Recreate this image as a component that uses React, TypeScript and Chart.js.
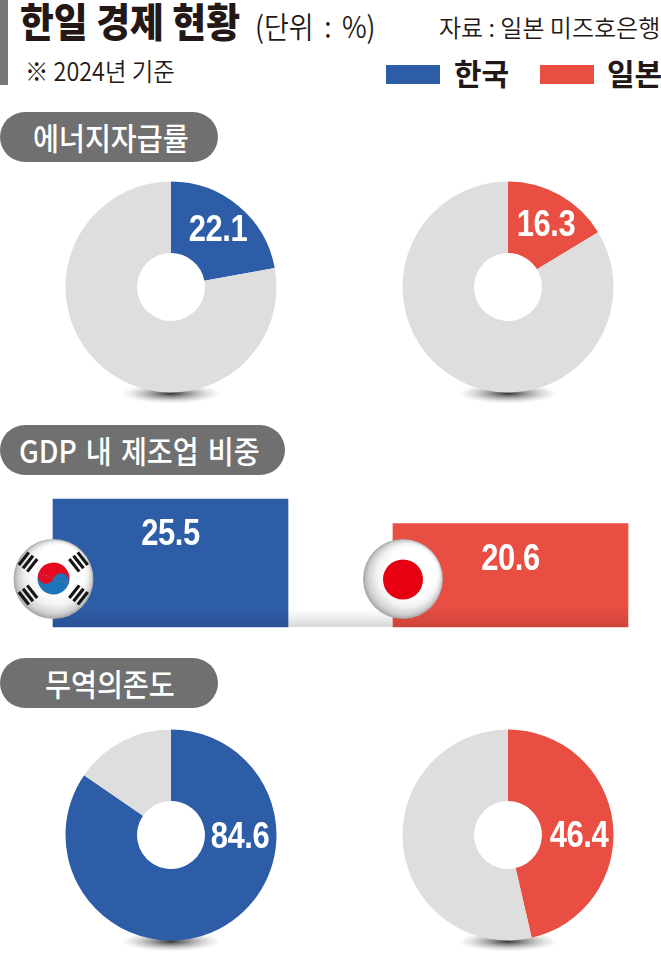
import React, { useEffect, useRef } from "react";
import { Chart, registerables } from "chart.js";

Chart.register(...registerables);

const KOREA = "한국";
const JAPAN = "일본";
const countries = [KOREA, JAPAN];
const energyShare = [22.1, 16.3];
const energyRest = [77.9, 83.7];
const gdpManufacturing = [25.5, 20.6];
const tradeShare = [84.6, 46.4];
const tradeRest = [15.4, 53.6];

const BLUE = "#2e5da8";
const RED = "#e94e42";
const GREY = "#dedede";
const KR = '"Noto Sans CJK KR"';
const NUM = '"Liberation Sans"';

const drawValue = (ctx: any, text: string, x: number, y: number) => {
  ctx.save();
  ctx.translate(x, y);
  ctx.scale(0.86, 1);
  ctx.font = `bold 36px ${NUM}`;
  ctx.letterSpacing = "-0.5px";
  ctx.textAlign = "center";
  ctx.textBaseline = "middle";
  ctx.fillStyle = "#fff";
  ctx.fillText(text, 0, 0);
  ctx.restore();
};

const pieExtras = {
  id: "pieExtras",
  beforeDatasetsDraw(chart: any) {
    const { ctx } = chart;
    const arc = chart.getDatasetMeta(0).data[0];
    ctx.save();
    ctx.translate(arc.x, arc.y + arc.outerRadius + 1);
    ctx.scale(1, 0.2);
    const g = ctx.createRadialGradient(0, 0, 0, 0, 0, 50);
    g.addColorStop(0, "rgba(40,40,40,0.95)");
    g.addColorStop(0.45, "rgba(90,90,90,0.5)");
    g.addColorStop(1, "rgba(170,170,170,0)");
    ctx.fillStyle = g;
    ctx.beginPath();
    ctx.arc(0, 0, 50, 0, Math.PI * 2);
    ctx.fill();
    ctx.restore();
  },
  afterDatasetsDraw(chart: any, _a: any, opts: any) {
    const arc = chart.getDatasetMeta(0).data[0];
    const v = chart.data.datasets[0].data[0];
    drawValue(chart.ctx, v.toFixed(1), arc.x + opts.dx, arc.y + opts.dy);
  },
};

function Doughnut({ left, top, share, rest, color, dx, dy }: any) {
  const ref = useRef<HTMLCanvasElement>(null);
  useEffect(() => {
    const chart = new Chart(ref.current as HTMLCanvasElement, {
      type: "doughnut",
      data: {
        labels: ["비중", "기타"],
        datasets: [{ data: [share, rest], backgroundColor: [color, GREY], borderWidth: 0 }],
      },
      options: {
        animation: false,
        responsive: false,
        cutout: "32.2%",
        layout: { padding: 12.5 },
        events: [],
        plugins: { legend: { display: false }, tooltip: { enabled: false }, pieExtras: { dx, dy } } as any,
      },
      plugins: [pieExtras],
    });
    return () => chart.destroy();
  }, []);
  return (
    <canvas
      ref={ref}
      width={236}
      height={236}
      style={{ position: "absolute", left, top, width: 236, height: 236 }}
    />
  );
}

const sphere = (ctx: any, x: number, y: number, r: number, fx: number, fy: number) => {
  const g = ctx.createRadialGradient(x + fx, y + fy, r * 0.62, x, y, r);
  g.addColorStop(0, "#ffffff");
  g.addColorStop(0.45, "#f1f1f1");
  g.addColorStop(0.8, "#cfcfcf");
  g.addColorStop(1, "#a4a4a4");
  ctx.fillStyle = g;
  ctx.beginPath();
  ctx.arc(x, y, r, 0, Math.PI * 2);
  ctx.fill();
};

const trigram = (ctx: any, x: number, y: number, angle: number) => {
  ctx.save();
  ctx.translate(x, y);
  ctx.rotate(angle);
  ctx.fillStyle = "#151515";
  for (let i = -1; i <= 1; i++) ctx.fillRect(-8, i * 5.4 - 1.6, 16, 3.2);
  ctx.restore();
};

const koreaFlag = (ctx: any, x: number, y: number) => {
  sphere(ctx, x, y, 40, 6, -9);
  const r = 16;
  const cy = y - 0.5;
  ctx.save();
  ctx.translate(x, cy);
  ctx.rotate(0.35);
  ctx.fillStyle = "#e60a1e";
  ctx.beginPath();
  ctx.arc(0, 0, r, Math.PI, 0);
  ctx.fill();
  ctx.fillStyle = "#1e74b8";
  ctx.beginPath();
  ctx.arc(0, 0, r, 0, Math.PI);
  ctx.fill();
  ctx.beginPath();
  ctx.arc(r / 2, 0, r / 2, Math.PI, 0);
  ctx.fill();
  ctx.fillStyle = "#e60a1e";
  ctx.beginPath();
  ctx.arc(-r / 2, 0, r / 2, 0, Math.PI);
  ctx.fill();
  ctx.restore();
  trigram(ctx, x - 25.5, y - 17, -0.9);
  trigram(ctx, x + 25, y - 17, 0.9);
  trigram(ctx, x - 25.5, y + 16, 0.9);
  trigram(ctx, x + 25, y + 16, -0.9);
};

const japanFlag = (ctx: any, x: number, y: number) => {
  sphere(ctx, x, y, 40, 9, -7);
  ctx.fillStyle = "#e60012";
  ctx.beginPath();
  ctx.arc(x, y + 0.5, 20, 0, Math.PI * 2);
  ctx.fill();
};

const barExtras = {
  id: "barExtras",
  beforeDatasetsDraw(chart: any) {
    const { ctx } = chart;
    const [a, b] = chart.getDatasetMeta(0).data;
    const base = a.base;
    const g = ctx.createLinearGradient(0, base - 17, 0, base);
    g.addColorStop(0, "rgba(215,215,215,0)");
    g.addColorStop(1, "rgba(215,215,215,1)");
    ctx.fillStyle = g;
    ctx.fillRect(a.x + a.width / 2, base - 17, b.x - b.width / 2 - a.x - a.width / 2, 17);
  },
  afterDatasetsDraw(chart: any) {
    const { ctx } = chart;
    const bars = chart.getDatasetMeta(0).data;
    const values = chart.data.datasets[0].data;
    bars.forEach((bar: any, i: number) => {
      const g = ctx.createLinearGradient(0, bar.base - 20, 0, bar.base);
      g.addColorStop(0, "rgba(0,0,0,0)");
      g.addColorStop(1, "rgba(0,0,0,0.12)");
      ctx.fillStyle = g;
      ctx.fillRect(bar.x - bar.width / 2, bar.base - 20, bar.width, 20);
      drawValue(ctx, values[i].toFixed(1), bar.x, bar.y + 36);
    });
    const flagY = bars[0].base - 48;
    koreaFlag(ctx, bars[0].x - bars[0].width / 2 + 0.5, flagY);
    japanFlag(ctx, bars[1].x - bars[1].width / 2 + 10, flagY);
  },
};

function GdpBars() {
  const ref = useRef<HTMLCanvasElement>(null);
  useEffect(() => {
    const chart = new Chart(ref.current as HTMLCanvasElement, {
      type: "bar",
      data: {
        labels: countries,
        datasets: [
          {
            data: gdpManufacturing,
            backgroundColor: [BLUE, RED],
            borderWidth: 0,
            barThickness: 235,
            clip: false,
          } as any,
        ],
      },
      options: {
        animation: false,
        responsive: false,
        events: [],
        layout: { padding: { left: 170.5, right: 150.5, top: 6.4, bottom: 8 } },
        scales: {
          x: { display: false, offset: false },
          y: { display: false, min: 0, max: 30 },
        },
        plugins: { legend: { display: false }, tooltip: { enabled: false } },
      },
      plugins: [barExtras],
    });
    return () => chart.destroy();
  }, []);
  return (
    <canvas
      ref={ref}
      width={661}
      height={165}
      style={{ position: "absolute", left: 0, top: 470, width: 661, height: 165 }}
    />
  );
}

const Text = ({ x, y, size, weight = 400, color = "#231815", spacing = 0, word = 0, sx = 1, children }: any) => (
  <div
    style={{
      position: "absolute",
      left: x,
      top: y,
      fontFamily: KR,
      fontSize: size,
      fontWeight: weight,
      color,
      letterSpacing: spacing,
      wordSpacing: word,
      lineHeight: 1,
      whiteSpace: "nowrap",
      transform: `scaleX(${sx})`,
      transformOrigin: "left top",
    }}
  >
    {children}
  </div>
);

const Pill = ({ top, width, textX, word = 0, children }: any) => (
  <div style={{ position: "absolute", left: 0, top, width, height: 50, background: "#707070", borderRadius: 25 }}>
    <Text x={textX} y={9} size={31} weight={500} color="#fff" sx={0.91} word={word}>
      {children}
    </Text>
  </div>
);

const Swatch = ({ x, color }: any) => (
  <div style={{ position: "absolute", left: x, top: 65, width: 54, height: 19, background: color }} />
);

export default function App() {
  return (
    <div style={{ position: "absolute", left: 0, top: 0, width: 661, height: 953, background: "#fff", overflow: "hidden" }}>
      <div style={{ position: "absolute", left: 0, top: 0, width: 8, height: 85, background: "#777" }} />
      <Text x={20} y={0} size={40} weight={900} sx={0.92}>한일 경제 현황</Text>
      <Text x={255} y={10} size={30} weight={350} sx={0.9} word={5}>(단위 : %)</Text>
      <Text x={439} y={15} size={24} weight={350}>자료 : 일본 미즈호은행</Text>
      <Text x={25} y={58} size={25} weight={350} sx={0.935}>※ 2024년 기준</Text>
      <Swatch x={386} color={BLUE} />
      <Text x={454} y={57} size={30} weight={700}>{countries[0]}</Text>
      <Swatch x={540} color={RED} />
      <Text x={607} y={57} size={30} weight={700}>{countries[1]}</Text>

      <Pill top={112} width={218} textX={33}>에너지자급률</Pill>
      <Doughnut left={53} top={169} share={energyShare[0]} rest={energyRest[0]} color={BLUE} dx={47} dy={-56} />
      <Doughnut left={390} top={169} share={energyShare[1]} rest={energyRest[1]} color={RED} dx={38} dy={-61} />

      <Pill top={425} width={285} textX={19} word={3}>GDP 내 제조업 비중</Pill>
      <GdpBars />

      <Pill top={658} width={218} textX={45}>무역의존도</Pill>
      <Doughnut left={53} top={717} share={tradeShare[0]} rest={tradeRest[0]} color={BLUE} dx={69} dy={3} />
      <Doughnut left={390} top={717} share={tradeShare[1]} rest={tradeRest[1]} color={RED} dx={71} dy={2} />
    </div>
  );
}
